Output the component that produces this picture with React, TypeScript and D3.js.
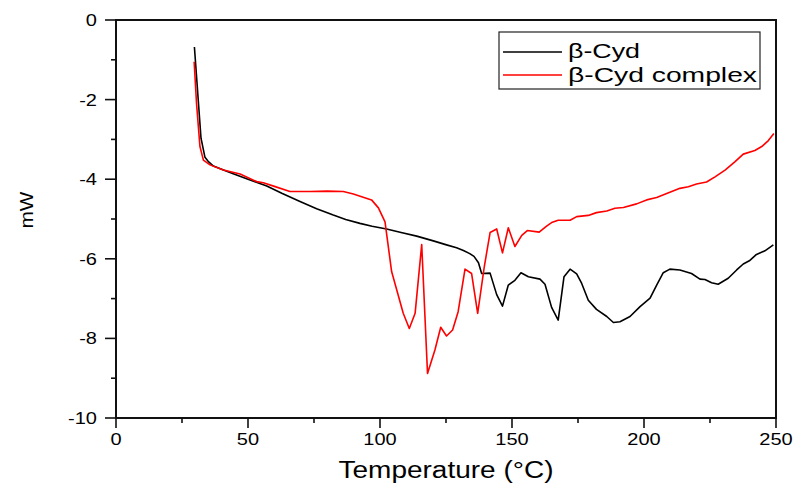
import React from 'react';
import * as d3 from 'd3';

// DSC curves (temperature in °C, heat flow in mW)
const cydTemp = [29.7, 32.2, 33.7, 34.9, 36.9, 40.7, 44.4, 50, 57.1, 63, 69.7, 76, 82.3, 87, 92.4, 97, 102.5, 108, 113.9, 120.2, 125.2, 129, 131.6, 134, 135.6, 137.3, 138.5, 141.7, 144.2, 146.4, 148.6, 151.1, 153.4, 156.2, 160.6, 162.5, 165, 167.5, 169.7, 172, 174.5, 176.4, 178.9, 182, 185.9, 188.4, 190.9, 194.7, 198.5, 202.3, 204.8, 207.3, 209.8, 213.6, 218, 221.2, 223.1, 225.6, 228.1, 231.9, 235.1, 237.6, 239.9, 242.4, 245.8, 249];
const cydMw = [-0.68, -2.97, -3.45, -3.55, -3.67, -3.77, -3.86, -4.0, -4.17, -4.36, -4.56, -4.74, -4.9, -5.01, -5.11, -5.18, -5.25, -5.34, -5.43, -5.55, -5.65, -5.72, -5.79, -5.87, -5.94, -6.1, -6.37, -6.36, -6.9, -7.19, -6.66, -6.54, -6.35, -6.45, -6.51, -6.64, -7.22, -7.54, -6.45, -6.26, -6.38, -6.62, -7.04, -7.27, -7.45, -7.6, -7.58, -7.45, -7.2, -6.99, -6.66, -6.35, -6.26, -6.28, -6.37, -6.51, -6.52, -6.6, -6.64, -6.49, -6.28, -6.13, -6.05, -5.9, -5.8, -5.65];

const complexTemp = [29.6, 30.5, 31.8, 33.1, 35.6, 40.7, 47, 53.3, 55.8, 60, 65.9, 73.5, 80, 86.1, 89.9, 96.8, 99.4, 101.9, 104.4, 108.8, 111.1, 113.3, 115.8, 118, 120.8, 123, 125.2, 127.5, 129.6, 132.2, 134.7, 137, 139.5, 141.7, 144.2, 146.4, 148.6, 151.1, 153.7, 155.8, 160.3, 163.1, 165, 167.5, 172, 174.5, 178.9, 182, 185.9, 189, 192.2, 197.2, 201, 204.8, 208.6, 213.6, 216.8, 219.9, 223.7, 226.9, 230.7, 234.5, 237.6, 242, 244.6, 247.1, 249.2];
const complexMw = [-1.05, -2.09, -3.18, -3.52, -3.64, -3.77, -3.87, -4.06, -4.09, -4.18, -4.31, -4.31, -4.3, -4.31, -4.37, -4.52, -4.72, -5.07, -6.32, -7.37, -7.75, -7.37, -5.64, -8.88, -8.29, -7.72, -7.94, -7.79, -7.33, -6.26, -6.37, -7.37, -6.2, -5.34, -5.25, -5.85, -5.22, -5.69, -5.41, -5.29, -5.33, -5.18, -5.09, -5.03, -5.03, -4.94, -4.91, -4.84, -4.8, -4.73, -4.71, -4.62, -4.52, -4.46, -4.36, -4.23, -4.19, -4.12, -4.07, -3.94, -3.77, -3.56, -3.37, -3.28, -3.18, -3.03, -2.85];

const seriesNames = ['\u03b2-Cyd', '\u03b2-Cyd complex'];
const seriesColors = ['#000000', '#ff0000'];
const xTickValues = [0, 50, 100, 150, 200, 250];
const yTickValues = [0, -2, -4, -6, -8, -10];

const W = 795;
const H = 483;
const font = '"Liberation Sans", Arial, sans-serif';

export default function App() {
  const x = d3.scaleLinear().domain([0, 250]).range([116, 776]);
  const y = d3.scaleLinear().domain([-10, 0]).range([418, 20]);

  const line = d3
    .line<[number, number]>()
    .x(d => x(d[0]))
    .y(d => y(d[1]));

  const series = [
    d3.zip(cydTemp, cydMw) as [number, number][],
    d3.zip(complexTemp, complexMw) as [number, number][],
  ];

  const xMinor = d3.range(0, 251, 25);
  const yMinor = d3.range(-10, 1, 1);
  const [x0, x1] = x.range();
  const [y0, y1] = y.range();

  return (
    <svg width={W} height={H} style={{ position: 'absolute', left: 0, top: 0, background: '#fff' }} fontFamily={font}>
      <rect width={W} height={H} fill="#fff" />

      {/* data */}
      {series.map((s, i) => (
        <path key={i} d={line(s) || ''} fill="none" stroke={seriesColors[i]} strokeWidth={1.6} strokeLinejoin="round" />
      ))}

      {/* frame */}
      <rect x={x0} y={y1} width={x1 - x0} height={y0 - y1} fill="none" stroke="#111" strokeWidth={2} />

      {/* x ticks */}
      {xMinor.map(t => (
        <line key={'xm' + t} x1={x(t)} x2={x(t)} y1={y0} y2={y0 + (t % 50 === 0 ? 10 : 5)} stroke="#111" strokeWidth={1.6} />
      ))}
      {xTickValues.map(t => (
        <text key={'xl' + t} x={x(t)} y={445} fontSize={16} textAnchor="middle"
          transform={`translate(${x(t)},0) scale(1.25,1) translate(${-x(t)},0)`}>
          {t}
        </text>
      ))}

      {/* y ticks */}
      {yMinor.map(t => (
        <line key={'ym' + t} x1={x0 - (t % 2 === 0 ? 11 : 5)} x2={x0} y1={y(t)} y2={y(t)} stroke="#111" strokeWidth={1.6} />
      ))}
      {yTickValues.map(t => (
        <text key={'yl' + t} x={97} y={y(t) + 6} fontSize={16} textAnchor="end"
          transform={`translate(97,0) scale(1.25,1) translate(-97,0)`}>
          {t}
        </text>
      ))}

      {/* axis titles */}
      <text x={446} y={478} fontSize={23} textAnchor="middle" textLength={215} lengthAdjust="spacingAndGlyphs">
        Temperature (°C)
      </text>
      <text transform="translate(33,210) rotate(-90)" fontSize={18} textAnchor="middle" textLength={37} lengthAdjust="spacingAndGlyphs">
        mW
      </text>

      {/* legend */}
      <rect x={499} y={32} width={261} height={57} fill="#fff" stroke="#222" strokeWidth={1.2} />
      {seriesNames.map((name, i) => (
        <g key={name}>
          <line x1={503} x2={562} y1={52 + i * 23} y2={52 + i * 23} stroke={seriesColors[i]} strokeWidth={1.5} />
          <text x={568} y={58 + i * 24} fontSize={21} textLength={i === 0 ? 72 : 189} lengthAdjust="spacingAndGlyphs">
            {name}
          </text>
        </g>
      ))}
    </svg>
  );
}
